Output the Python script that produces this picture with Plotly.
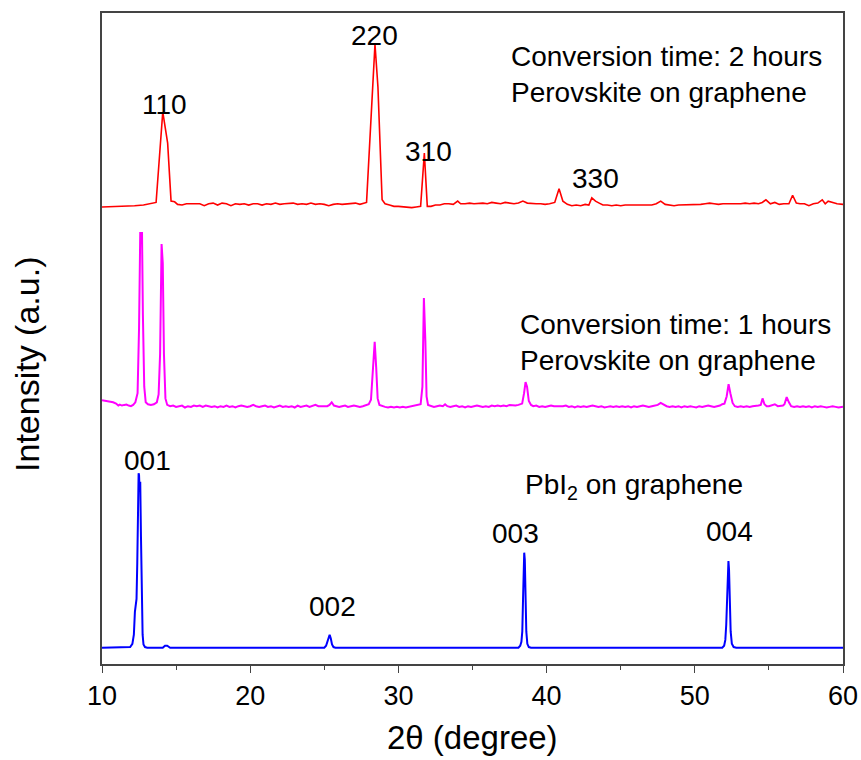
import plotly.graph_objects as go

# ---------------- data: 2theta (degree) and relative intensity ----------------
# PbI2 on graphene
pbi2_2theta = [10.0, 11.5, 11.9, 12.05, 12.15, 12.22, 12.28, 12.33, 12.38, 12.43, 12.47, 12.5,
               12.54, 12.58, 12.63, 12.68, 12.74, 12.8, 12.9, 13.05, 14.1, 14.25, 14.4, 14.6,
               25.0, 25.12, 25.22, 25.3, 25.36, 25.44, 25.52, 25.62, 25.75,
               38.1, 38.22, 38.3, 38.36, 38.41, 38.45, 38.49, 38.53, 38.58, 38.63, 38.7, 38.8, 38.95,
               51.85, 51.98, 52.06, 52.12, 52.18, 52.23, 52.27, 52.31, 52.36, 52.42, 52.5, 52.62, 52.8, 60.0]
pbi2_int = [0.0, 0.0, 0.1, 0.6, 2.0, 5.5, 6.6, 7.5, 13.0, 22.0, 26.8, 26.5,
            24.0, 25.5, 17.0, 7.5, 2.0, 0.5, 0.1, 0.0, 0.0, 0.3, 0.3, 0.0,
            0.0, 0.3, 1.0, 1.8, 2.0, 1.4, 0.5, 0.1, 0.0,
            0.0, 0.3, 0.9, 2.5, 7.5, 11.0, 14.6, 13.5, 8.0, 2.5, 0.6, 0.1, 0.0,
            0.0, 0.3, 1.2, 3.5, 8.0, 12.0, 13.3, 12.0, 7.0, 2.5, 0.6, 0.1, 0.0, 0.0]

# Perovskite on graphene, 1 hour conversion
p1h_2theta = [10.0, 10.25, 10.5, 10.75, 10.95, 11.1, 11.2, 11.35, 11.5, 11.65, 11.8, 11.95,
              12.1, 12.25, 12.4, 12.5, 12.58, 12.7, 12.76, 12.85, 12.95, 13.1, 13.3, 13.5,
              13.7, 13.82, 13.92, 14.02, 14.1, 14.18, 14.28, 14.4, 14.6, 14.8, 15.0, 15.2,
              15.4, 15.6, 15.8, 16.0, 16.2, 16.4, 16.6, 16.8, 17.0, 17.2, 17.4, 17.6,
              17.8, 18.0, 18.2, 18.4, 18.6, 18.8, 19.0, 19.2, 19.4, 19.6, 19.8, 20.0,
              20.2, 20.4, 20.6, 20.8, 21.0, 21.2, 21.4, 21.6, 21.8, 22.0, 22.2, 22.4,
              22.6, 22.8, 23.0, 23.2, 23.4, 23.6, 23.8, 24.0, 24.2, 24.4, 24.6, 24.8,
              25.0, 25.2, 25.35, 25.5, 25.65, 25.8, 26.0, 26.2, 26.4, 26.6, 26.8, 27.0,
              27.2, 27.4, 27.6, 27.8, 28.0, 28.15, 28.28, 28.4, 28.5, 28.6, 28.72, 28.9,
              29.1, 29.3, 29.5, 29.7, 29.9, 30.1, 30.3, 30.5, 30.7, 30.9, 31.1, 31.3,
              31.5, 31.62, 31.72, 31.82, 31.9, 32.0, 32.2, 32.4, 32.6, 32.8, 33.0, 33.15,
              33.3, 33.5, 33.7, 33.9, 34.1, 34.3, 34.5, 34.7, 34.9, 35.1, 35.3, 35.5,
              35.7, 35.9, 36.1, 36.3, 36.5, 36.7, 36.9, 37.1, 37.3, 37.5, 37.7, 37.9,
              38.1, 38.35, 38.48, 38.58, 38.68, 38.8, 38.95, 39.1, 39.3, 39.5, 39.7, 39.9,
              40.1, 40.3, 40.5, 40.7, 40.9, 41.1, 41.3, 41.5, 41.7, 41.9, 42.1, 42.3,
              42.5, 42.7, 42.9, 43.1, 43.3, 43.5, 43.7, 43.9, 44.1, 44.3, 44.5, 44.7,
              44.9, 45.1, 45.3, 45.5, 45.7, 45.9, 46.1, 46.3, 46.5, 46.7, 46.9, 47.1,
              47.3, 47.5, 47.7, 47.9, 48.1, 48.3, 48.5, 48.7, 48.9, 49.1, 49.3, 49.5,
              49.7, 49.9, 50.1, 50.3, 50.5, 50.7, 50.9, 51.1, 51.3, 51.5, 51.7, 51.85,
              52.0, 52.15, 52.28, 52.4, 52.55, 52.7, 52.9, 53.1, 53.3, 53.5, 53.7, 53.9,
              54.1, 54.3, 54.45, 54.57, 54.7, 54.85, 55.0, 55.2, 55.4, 55.6, 55.8, 55.95,
              56.05, 56.2, 56.35, 56.5, 56.7, 56.9, 57.1, 57.3, 57.5, 57.7, 57.9, 58.1,
              58.3, 58.5, 58.7, 58.9, 59.1, 59.3, 59.5, 59.7, 60.0]
p1h_int = [0.9, 0.8, 0.75, 0.6, 0.4, 0.1, 0.25, 0.1, 0.2, 0.25, 0.1, 0.0,
           0.2, 0.6, 2.0, 12.0, 26.6, 26.6, 14.0, 3.0, 0.6, 0.3, 0.2, 0.3,
           0.6, 1.8, 8.0, 24.9, 22.0, 8.0, 1.2, 0.2, 0.0, 0.1, -0.1, 0.0,
           0.1, -0.2, 0.0, -0.1, 0.1, 0.0, 0.1, -0.1, 0.1, 0.0, -0.1, 0.0,
           -0.2, 0.0, -0.1, 0.1, -0.1, 0.0, -0.2, 0.0, 0.1, 0.0, -0.1, 0.0,
           0.2, 0.0, -0.1, 0.0, 0.1, -0.1, 0.0, -0.2, 0.0, 0.1, -0.1, 0.0,
           -0.1, 0.0, -0.2, 0.1, -0.1, 0.0, 0.1, -0.1, 0.0, 0.2, 0.0, 0.0,
           -0.1, 0.0, 0.2, 0.6, 0.1, 0.0, -0.1, 0.0, 0.1, -0.1, 0.0, 0.1,
           0.0, -0.1, 0.0, 0.1, 0.3, 1.0, 5.0, 9.9, 6.0, 1.2, 0.2, 0.0,
           -0.1, -0.2, -0.1, -0.2, -0.1, -0.2, -0.1, -0.2, -0.1, 0.0, 0.1, 0.2,
           0.3, 3.0, 16.6, 10.0, 1.5, 0.2, 0.0, -0.1, 0.0, 0.1, 0.0, 0.3,
           0.0, -0.1, 0.0, 0.1, -0.1, 0.0, -0.2, 0.0, -0.1, 0.0, 0.1, 0.0,
           -0.1, 0.0, -0.1, 0.1, 0.0, 0.1, 0.0, 0.1, 0.0, 0.2, 0.1, 0.1,
           0.2, 0.4, 2.0, 3.7, 3.0, 0.8, 0.2, 0.0, 0.1, -0.1, 0.0, -0.1,
           0.0, 0.1, 0.0, 0.0, -0.1, 0.0, 0.1, -0.1, 0.0, -0.2, 0.0, -0.1,
           0.0, -0.1, 0.0, 0.1, 0.0, -0.1, 0.0, -0.2, -0.1, 0.0, -0.1, 0.0,
           -0.1, 0.0, -0.1, 0.0, -0.2, 0.0, -0.1, 0.0, 0.1, 0.0, -0.1, 0.0,
           0.1, 0.2, 0.5, 0.2, 0.0, -0.1, 0.0, -0.1, 0.0, -0.2, 0.0, -0.1,
           0.0, -0.1, -0.2, 0.0, -0.1, 0.0, 0.1, 0.0, -0.1, 0.0, 0.1, 0.3,
           0.4, 1.5, 3.4, 2.0, 0.5, 0.0, -0.1, 0.0, -0.1, 0.0, -0.1, 0.0,
           0.0, 0.1, 0.2, 1.2, 0.3, 0.0, 0.0, 0.1, 0.3, 0.0, 0.0, 0.1,
           0.3, 1.4, 0.6, 0.0, -0.1, 0.0, -0.1, 0.0, -0.1, 0.0, -0.2, 0.0,
           -0.1, 0.0, -0.1, -0.2, -0.1, 0.0, -0.1, -0.2, -0.1]

# Perovskite on graphene, 2 hours conversion
p2h_2theta = [10.0, 10.8, 11.5, 12.2, 12.8, 13.3, 13.65, 14.1, 14.43, 14.66, 14.9, 15.1,
              15.4, 15.7, 16.0, 16.3, 16.6, 16.9, 17.2, 17.5, 17.8, 18.1, 18.4, 18.7,
              19.0, 19.3, 19.6, 19.9, 20.2, 20.5, 20.8, 21.1, 21.4, 21.7, 22.0, 22.3,
              22.6, 22.9, 23.2, 23.5, 23.8, 24.1, 24.4, 24.7, 25.0, 25.3, 25.6, 25.9,
              26.2, 26.5, 26.8, 27.1, 27.4, 27.85, 28.42, 28.62, 28.9, 29.1, 29.4, 29.7,
              30.0, 30.3, 30.6, 30.9, 31.2, 31.5, 31.75, 31.95, 32.2, 32.5, 32.8, 33.1,
              33.4, 33.7, 34.0, 34.2, 34.5, 34.8, 35.1, 35.4, 35.7, 36.0, 36.3, 36.6,
              36.9, 37.2, 37.5, 37.8, 38.1, 38.4, 38.7, 39.0, 39.3, 39.6, 39.9, 40.2,
              40.55, 40.84, 41.1, 41.4, 41.7, 42.0, 42.3, 42.6, 42.85, 43.05, 43.3, 43.55,
              43.8, 44.1, 44.4, 44.7, 45.0, 45.3, 45.6, 45.9, 46.2, 46.5, 46.8, 47.1,
              47.4, 47.7, 48.0, 48.3, 48.6, 48.9, 49.2, 49.5, 49.8, 50.1, 50.4, 50.7,
              51.0, 51.3, 51.6, 51.9, 52.2, 52.5, 52.8, 53.1, 53.4, 53.7, 54.0, 54.3,
              54.55, 54.8, 55.1, 55.4, 55.7, 56.0, 56.35, 56.6, 56.85, 57.1, 57.4, 57.7,
              58.0, 58.3, 58.6, 58.8, 59.0, 59.3, 59.6, 60.0]
p2h_int = [-0.3, -0.25, -0.15, -0.1, 0.0, 0.2, 0.4, 14.3, 9.5, 0.6, 0.5, 0.1,
           0.0, 0.2, 0.2, 0.1, 0.2, -0.1, 0.2, 0.3, 0.0, 0.3, 0.2, -0.1,
           0.2, 0.1, 0.2, 0.0, 0.2, 0.2, 0.0, 0.2, 0.1, 0.3, 0.1, 0.2,
           0.2, 0.3, 0.1, 0.2, 0.1, 0.3, 0.1, 0.2, 0.1, -0.1, 0.1, 0.2,
           0.1, 0.2, 0.2, 0.3, 0.1, 0.4, 24.7, 18.1, 0.8, 0.2, 0.0, -0.2,
           -0.2, -0.3, -0.3, -0.4, -0.3, -0.2, 8.0, -0.2, -0.2, 0.0, 0.0, 0.2,
           0.2, 0.1, 0.6, 0.2, 0.2, 0.3, 0.2, 0.3, 0.3, 0.2, 0.4, 0.3,
           0.2, 0.4, 0.3, 0.2, 0.3, 0.6, 0.3, 0.2, 0.2, 0.2, 0.1, 0.2,
           0.4, 2.5, 0.6, 0.1, -0.1, 0.0, -0.1, 0.1, 0.0, 1.1, 0.6, 0.3,
           0.0, 0.0, -0.1, 0.0, -0.1, 0.0, 0.0, 0.0, 0.0, -0.1, 0.0, 0.0,
           0.2, 0.6, 0.1, 0.0, -0.1, 0.0, 0.0, 0.1, 0.1, 0.0, 0.1, 0.2,
           0.3, 0.2, 0.1, 0.2, 0.2, 0.1, 0.1, 0.2, 0.3, 0.2, 0.3, 0.2,
           0.4, 0.8, 0.2, 0.4, 0.1, 0.2, 0.2, 1.5, 0.3, 0.2, 0.2, -0.1,
           0.2, 0.3, 0.8, 0.2, 0.6, 0.4, 0.2, 0.1]

# vertical stacking offsets of the three patterns
pbi2_offset = 2.5
p1h_offset = 39.6
p2h_offset = 70.5

# Miller-index labels above the reflections
peak_labels = ["110", "220", "310", "330", "001", "002", "003", "004"]
peak_label_x = [14.25, 28.42, 32.0, 43.27, 13.1, 25.52, 37.87, 52.31]
peak_label_y = [85.9, 96.6, 78.8, 74.6, 31.3, 8.8, 20.1, 20.4]

FONT = "Liberation Sans, Arial, sans-serif"
TXT = 28

fig = go.Figure()
fig.add_trace(go.Scatter(x=pbi2_2theta, y=[v + pbi2_offset for v in pbi2_int],
                         mode="lines", line=dict(color="#0000ff", width=2)))
fig.add_trace(go.Scatter(x=p1h_2theta, y=[v + p1h_offset for v in p1h_int],
                         mode="lines", line=dict(color="#ff00ff", width=2)))
fig.add_trace(go.Scatter(x=p2h_2theta, y=[v + p2h_offset for v in p2h_int],
                         mode="lines", line=dict(color="#ff0000", width=1.6)))

annotations = []
for lab, lx, ly in zip(peak_labels, peak_label_x, peak_label_y):
    annotations.append(dict(x=lx, y=ly, xref="x", yref="y", text=lab, showarrow=False,
                            xanchor="center", yanchor="middle",
                            font=dict(family=FONT, size=TXT, color="black")))

annotations += [
    dict(x=37.46, y=90.5, xref="x", yref="y", showarrow=False, xanchor="left", yanchor="middle",
         align="left", text="Conversion time: 2 hours<br>Perovskite on graphene",
         font=dict(family=FONT, size=TXT, color="black")),
    dict(x=38.07, y=49.4, xref="x", yref="y", showarrow=False, xanchor="left", yanchor="middle",
         align="left", text="Conversion time: 1 hours<br>Perovskite on graphene",
         font=dict(family=FONT, size=TXT, color="black")),
    dict(x=38.4, y=27.3, xref="x", yref="y", showarrow=False, xanchor="left", yanchor="middle",
         align="left", text="PbI<sub>2</sub> on graphene",
         font=dict(family=FONT, size=TXT, color="black")),
    # axis titles
    dict(x=0.5, y=-0.113, xref="paper", yref="paper", showarrow=False,
         xanchor="center", yanchor="middle", text="2θ (degree)",
         font=dict(family=FONT, size=33, color="black")),
    dict(x=-0.102, y=0.46, xref="paper", yref="paper", showarrow=False, textangle=-90,
         xanchor="center", yanchor="middle", text="Intensity (a.u.)",
         font=dict(family=FONT, size=34, color="black")),
]

fig.update_layout(
    width=861, height=760,
    margin=dict(l=102, r=18, t=13, b=96, autoexpand=False),
    paper_bgcolor="white", plot_bgcolor="white",
    showlegend=False,
    annotations=annotations,
    font=dict(family=FONT, color="black"),
)
fig.update_xaxes(
    range=[10, 60], dtick=10, tick0=10, automargin=False,
    ticks="outside", ticklen=7, tickwidth=1.2, tickcolor="#444",
    minor=dict(ticks="outside", ticklen=4, dtick=5, tick0=10, tickcolor="#444"),
    showline=True, linecolor="#444", linewidth=1.5, mirror=True,
    showgrid=False, zeroline=False,
    tickfont=dict(family=FONT, size=27, color="black"),
)
fig.update_yaxes(
    range=[0, 100], automargin=False,
    showticklabels=False, ticks="",
    showline=True, linecolor="#444", linewidth=1.5, mirror=True,
    showgrid=False, zeroline=False,
)

fig.write_html("out.html")
